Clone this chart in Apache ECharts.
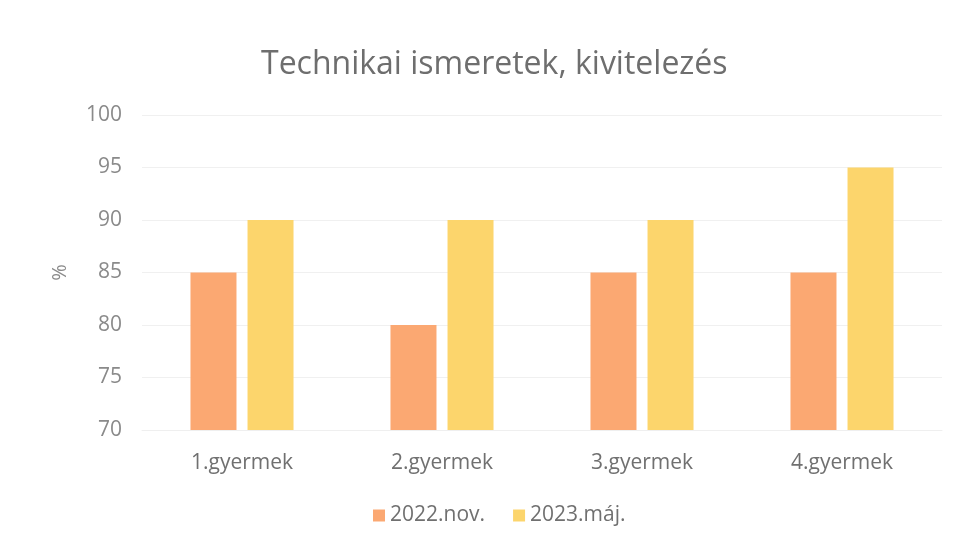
<!DOCTYPE html>
<html>
<head>
<meta charset="utf-8">
<script src="https://cdn.jsdelivr.net/npm/echarts@6/dist/echarts.min.js"></script>
<style>
  html, body { margin: 0; padding: 0; background: #fff; }
  #chart { width: 961px; height: 547px; }
</style>
</head>
<body>
<div id="chart"></div>
<script>
const categories = ['1.gyermek', '2.gyermek', '3.gyermek', '4.gyermek']
const nov2022 = [85, 80, 85, 85]
const maj2023 = [90, 90, 90, 95]
const yTicks = [70, 75, 80, 85, 90, 95, 100]

const font = '"Open Sans", Lato, sans-serif'
const chart = echarts.init(document.getElementById('chart'))

chart.setOption({
  animation: false,
  textStyle: { fontFamily: font },
  title: {
    text: 'Technikai ismeretek, kivitelezés',
    left: 256,
    top: 44,
    textStyle: { fontSize: 32, fontWeight: 'normal', color: '#6e6e6e', fontFamily: font }
  },
  legend: {
    bottom: 16,
    left: 368,
    itemWidth: 12,
    itemHeight: 12,
    itemGap: 28,
    icon: 'rect',
    textStyle: { fontSize: 21, color: '#707070', fontFamily: font }
  },
  grid: { left: 142, right: 19, top: 115, bottom: 117 },
  xAxis: {
    type: 'category',
    data: categories,
    axisLine: { show: true, lineStyle: { color: '#efefef' } },
    axisTick: { show: false },
    axisLabel: { fontSize: 21, color: '#707070', margin: 23, fontFamily: font }
  },
  yAxis: {
    type: 'value',
    min: yTicks[0],
    max: yTicks[yTicks.length - 1],
    interval: 5,
    name: '%',
    nameLocation: 'middle',
    nameGap: 72,
    nameRotate: 90,
    nameTextStyle: { fontSize: 20, color: '#8a8a8a', fontFamily: font },
    axisLine: { show: false },
    axisTick: { show: false },
    axisLabel: { fontSize: 21, color: '#8a8a8a', margin: 20, fontFamily: font },
    splitLine: { lineStyle: { color: '#f0f0f0' } }
  },
  series: [{
    name: '2022.nov.',
    type: 'bar',
    data: nov2022,
    barWidth: '23%',
    barGap: '24%',
    itemStyle: { color: '#fba872' }
  }, {
    name: '2023.máj.',
    type: 'bar',
    data: maj2023,
    barWidth: '23%',
    itemStyle: { color: '#fcd56c' }
  }]
})
</script>
</body>
</html>
